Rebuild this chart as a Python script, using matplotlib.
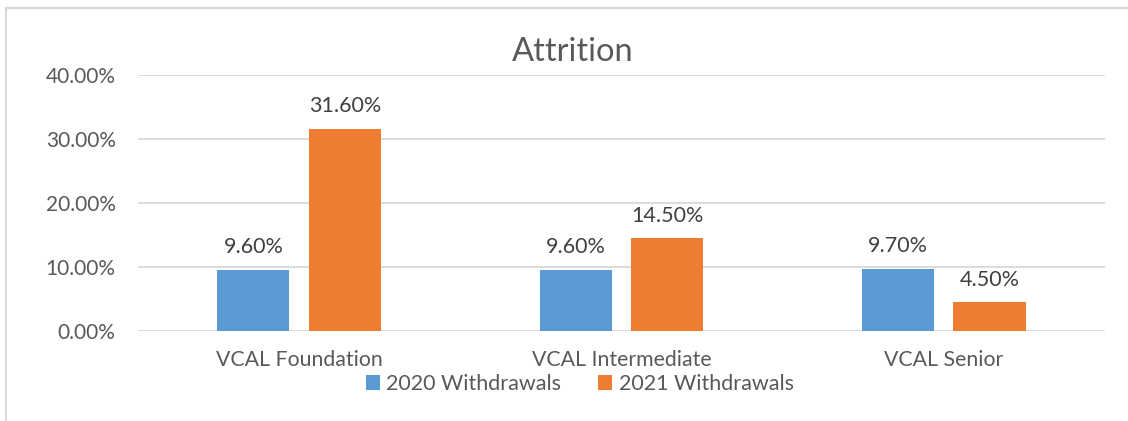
import matplotlib
matplotlib.use("Agg")
import matplotlib.pyplot as plt
from matplotlib.lines import Line2D
import numpy as np

categories = ["VCAL Foundation", "VCAL Intermediate", "VCAL Senior"]
series_names = ["2020 Withdrawals", "2021 Withdrawals"]
values_2020 = [9.6, 9.6, 9.7]
values_2021 = [31.6, 14.5, 4.5]
yticks = [0, 10, 20, 30, 40]
title = "Attrition"

plt.rcParams['font.family'] = ['Lato', 'DejaVu Sans']
txt = '#595959'
blue = '#5B9BD5'
orange = '#ED7D31'

fig = plt.figure(figsize=(11.28, 4.21), dpi=100)
ax = fig.add_axes([0.1223, 0.2138, 0.8573, 0.6081])

x = np.arange(len(categories))
w = 0.224
off = 0.142
b1 = ax.bar(x - off, values_2020, w, color=blue, label=series_names[0], zorder=3)
b2 = ax.bar(x + off, values_2021, w, color=orange, label=series_names[1], zorder=3)
for bars in (b1, b2):
    for r in bars:
        h = r.get_height()
        ax.annotate(f"{h:.2f}%", (r.get_x() + r.get_width() / 2, h),
                    xytext=(0, 9), textcoords='offset points',
                    ha='center', va='bottom', fontsize=15.5, color='#404040')

ax.set_xlim(-0.5, len(categories) - 0.5)
ax.set_ylim(0, 40)
ax.set_yticks(yticks)
ax.set_yticklabels([f"{v:.2f}%" for v in yticks])
ax.set_xticks(x)
ax.set_xticklabels(categories)
ax.tick_params(axis='y', length=0, labelsize=15, labelcolor=txt, pad=16)
ax.tick_params(axis='x', length=0, labelsize=15.3, labelcolor=txt, pad=14)
ax.grid(axis='y', color='#D9D9D9', lw=1.3, zorder=0)
for s in ax.spines.values():
    s.set_visible(False)

fig.text(0.508, 0.876, title, ha='center', va='center', fontsize=23.5, color=txt)

leg = fig.legend(handles=[b1, b2], loc='center', bbox_to_anchor=(0.514, 0.088),
                 ncol=2, frameon=False, fontsize=15.5, handlelength=0.65,
                 handleheight=0.65, handletextpad=0.3, columnspacing=1.7)
for t in leg.get_texts():
    t.set_color(txt)

# outer chart frame (cropped on right and bottom)
fig.add_artist(Line2D([0.0055, 1.0], [0.982, 0.982], color='#D9D9D9', lw=1.5, transform=fig.transFigure))
fig.add_artist(Line2D([0.0055, 0.0055], [0.0, 0.982], color='#D9D9D9', lw=1.5, transform=fig.transFigure))

fig.savefig("out.png", dpi=100)
